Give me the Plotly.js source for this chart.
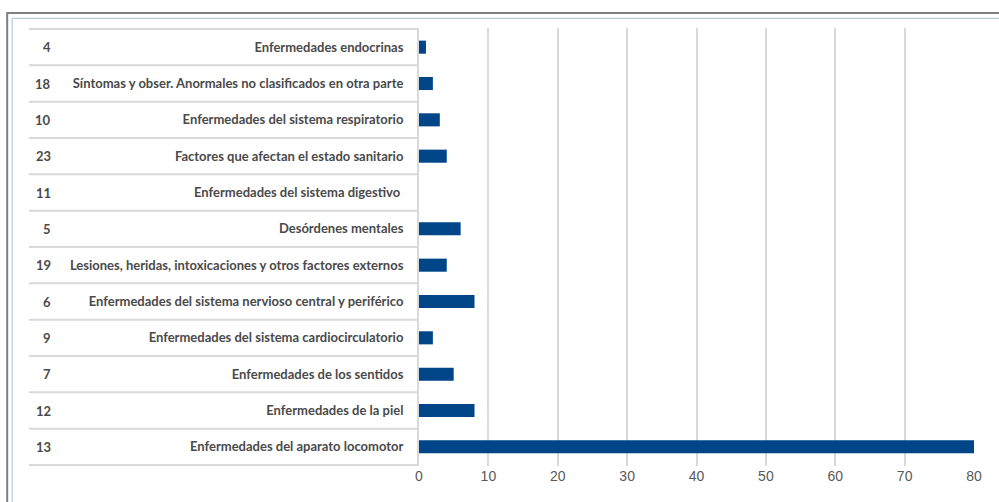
<!DOCTYPE html>
<html>
<head>
<meta charset="utf-8">
<script src="https://cdn.plot.ly/plotly-3.0.1.min.js"></script>
<style>html,body{margin:0;padding:0;background:#fff;}#chart{width:999px;height:502px;}</style>
</head>
<body>
<div id="chart"></div>
<script>
// Categories listed top to bottom
const codes = ["4", "18", "10", "23", "11", "5", "19", "6", "9", "7", "12", "13"];
const names = [
  "Enfermedades endocrinas",
  "Síntomas y obser. Anormales no clasificados en otra parte",
  "Enfermedades del sistema respiratorio",
  "Factores que afectan el estado sanitario",
  "Enfermedades del sistema digestivo ",
  "Desórdenes mentales",
  "Lesiones, heridas, intoxicaciones y otros factores externos",
  "Enfermedades del sistema nervioso central y periférico",
  "Enfermedades del sistema cardiocirculatorio",
  "Enfermedades de los sentidos",
  "Enfermedades de la piel",
  "Enfermedades del aparato locomotor"
];
const values = [1, 2, 3, 4, 0, 6, 4, 8, 2, 5, 8, 80];
const xTicks = [0, 10, 20, 30, 40, 50, 60, 70, 80];

const labelFont = { family: "Lato, 'Liberation Sans', sans-serif", size: 13, color: "#4a4a4a", weight: "bold" };

const trace = {
  type: "bar",
  orientation: "h",
  x: values,
  y: names,
  marker: { color: "#004587" },
  width: 0.36,
  hoverinfo: "x"
};

// Code column as annotations tied to each category
const codeAnnotations = codes.map((c, i) => ({
  xref: "paper", yref: "y",
  x: -0.659, y: names[i],
  text: c, showarrow: false,
  xanchor: "right", yanchor: "middle",
  font: labelFont
}));

// Table row separators at the category boundaries
const rowLines = [];
for (let i = 0; i <= names.length; i++) {
  rowLines.push({
    type: "line", xref: "paper", yref: "y",
    x0: -0.703, x1: 0, y0: i - 0.5, y1: i - 0.5,
    line: { color: "#d9d9d9", width: 2 }, layer: "below"
  });
}

const layout = {
  width: 999,
  height: 502,
  margin: { l: 419, r: 25, t: 28, b: 36 },
  paper_bgcolor: "#ffffff",
  plot_bgcolor: "#ffffff",
  showlegend: false,
  font: { family: "Lato, 'Liberation Sans', sans-serif", color: "#595959" },
  xaxis: {
    range: [0, 80],
    tickvals: xTicks,
    ticktext: xTicks.map(String),
    showgrid: true,
    gridcolor: "#d9d9d9",
    gridwidth: 2,
    zeroline: false,
    showline: false,
    ticks: "",
    tickfont: { family: "'Liberation Sans', Arial, sans-serif", size: 14, color: "#595959" },
    fixedrange: true
  },
  yaxis: {
    type: "category",
    categoryorder: "array",
    categoryarray: names,
    autorange: "reversed",
    showgrid: false,
    showline: true,
    linecolor: "#d9d9d9",
    linewidth: 2,
    ticks: "",
    ticklabelstandoff: 11,
    tickfont: labelFont,
    fixedrange: true
  },
  annotations: codeAnnotations,
  shapes: [
    { type: "rect", xref: "paper", yref: "paper", x0: -0.742, x1: 1.3, y0: -0.3, y1: 1.034,
      line: { color: "#7f7f7f", width: 2 }, fillcolor: "rgba(0,0,0,0)", layer: "below" },
    { type: "rect", xref: "paper", yref: "paper", x0: -0.733, x1: 1.3, y0: -0.3, y1: 1.022,
      line: { color: "#a8bcd6", width: 1 }, fillcolor: "rgba(0,0,0,0)", layer: "below" }
  ].concat(rowLines)
};

Plotly.newPlot("chart", [trace], layout, { displayModeBar: false, staticPlot: true });
</script>
</body>
</html>
